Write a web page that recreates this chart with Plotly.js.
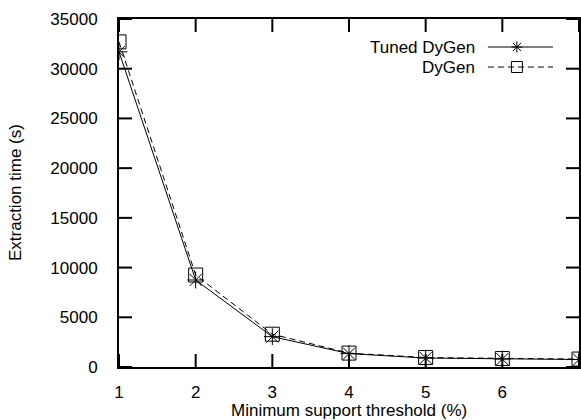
<!DOCTYPE html>
<html>
<head>
<meta charset="utf-8">
<script src="https://cdn.plot.ly/plotly-3.0.1.min.js"></script>
<style>
  html, body { margin: 0; padding: 0; background: #fff; }
  #chart { width: 581px; height: 420px; }
</style>
</head>
<body>
<div id="chart"></div>
<script>
// Minimum support threshold (%)
const thresholds = [1, 2, 3, 4, 5, 6, 7];
// Extraction time (s)
const tunedDyGen = [31700, 8750, 3050, 1350, 900, 800, 750];
const dyGen      = [32700, 9250, 3300, 1400, 950, 850, 800];

const seriesNames = ['Tuned DyGen', 'DyGen'];
const xTickLabels = ['1', '2', '3', '4', '5', '6', '7'];
const yTickValues = [0, 5000, 10000, 15000, 20000, 25000, 30000, 35000];

const FONT = 'Liberation Sans, Arial, Helvetica, sans-serif';
const TICK_LEN = 13;

const traces = [
  {
    x: thresholds, y: tunedDyGen, name: seriesNames[0],
    type: 'scatter', mode: 'lines+markers',
    line: { color: '#000', width: 1 },
    marker: { symbol: 'asterisk-open', size: 14, color: '#000', line: { color: '#000', width: 1 } },
    showlegend: false
  },
  {
    x: thresholds, y: dyGen, name: seriesNames[1],
    type: 'scatter', mode: 'lines+markers',
    line: { color: '#000', width: 1, dash: '6px,4px' },
    marker: { symbol: 'square-open', size: 14, color: '#000', line: { color: '#000', width: 1 } },
    showlegend: false
  }
];

const shapes = [];

// Inward tick marks on all four sides of the frame, placed at the tick values.
thresholds.forEach((v) => {
  [[0, TICK_LEN], [1, -TICK_LEN]].forEach(([anchor, len]) => {
    shapes.push({
      type: 'line', xref: 'x', yref: 'paper', ysizemode: 'pixel', yanchor: anchor,
      x0: v, x1: v, y0: 0, y1: len, line: { color: '#000', width: 2 }
    });
  });
});
yTickValues.forEach((v) => {
  [[0, TICK_LEN], [1, -TICK_LEN]].forEach(([anchor, len]) => {
    shapes.push({
      type: 'line', xref: 'paper', yref: 'y', xsizemode: 'pixel', xanchor: anchor,
      x0: 0, x1: len, y0: v, y1: v, line: { color: '#000', width: 2 }
    });
  });
});

// Key: label text on the left, line sample with its symbol on the right.
const keyRows = [
  { y: 0.9195, dash: 'solid' },
  { y: 0.862,  dash: '6px,4px' }
];
const keyX0 = 0.802, keyXm = 0.865, keyX1 = 0.9435, keyTextX = 0.778;
const keyMark = 5.5;   // half-size of key symbols, px

const starPath = (r) => {
  const d = (r * 0.75).toFixed(2);
  return `M${-r},0H${r}M0,${-r}V${r}M${-d},${-d}L${d},${d}M${-d},${d}L${d},${-d}`;
};

keyRows.forEach((row, i) => {
  shapes.push({
    type: 'line', xref: 'paper', yref: 'paper',
    x0: keyX0, x1: keyX1, y0: row.y, y1: row.y,
    line: { color: '#000', width: 1, dash: row.dash }
  });
  if (i === 0) {
    shapes.push({
      type: 'path', xref: 'paper', yref: 'paper',
      xsizemode: 'pixel', ysizemode: 'pixel', xanchor: keyXm, yanchor: row.y,
      path: starPath(keyMark), line: { color: '#000', width: 1 }
    });
  } else {
    shapes.push({
      type: 'rect', xref: 'paper', yref: 'paper',
      xsizemode: 'pixel', ysizemode: 'pixel', xanchor: keyXm, yanchor: row.y,
      x0: -keyMark, x1: keyMark, y0: -keyMark, y1: keyMark,
      line: { color: '#000', width: 1 }, fillcolor: 'rgba(0,0,0,0)'
    });
  }
});

const annotations = seriesNames.map((name, i) => ({
  text: name, xref: 'paper', yref: 'paper',
  x: keyTextX, y: keyRows[i].y, xanchor: 'right', yanchor: 'middle',
  showarrow: false, font: { family: FONT, size: 17, color: '#000' }
}));

annotations.push({
  text: 'Minimum support threshold (%)', xref: 'paper', yref: 'paper',
  x: 0.5, y: -0.1236, xanchor: 'center', yanchor: 'middle',
  showarrow: false, font: { family: FONT, size: 17, color: '#000' }
});
annotations.push({
  text: 'Extraction time (s)', xref: 'paper', yref: 'paper',
  x: -0.226, y: 0.5, xanchor: 'center', yanchor: 'middle', textangle: -90,
  showarrow: false, font: { family: FONT, size: 17, color: '#000' }
});

// Axis frame; the clear outside ticks only set the gap to the tick labels.
const axisCommon = {
  showline: true, linecolor: '#000', linewidth: 2, mirror: true,
  ticks: 'outside', tickcolor: 'rgba(0,0,0,0)', tickwidth: 1,
  showgrid: false, zeroline: false, automargin: false,
  tickfont: { family: FONT, size: 17, color: '#000' }
};

const layout = {
  width: 581, height: 420,
  // fixed margins: the titles sit in them, so nothing may re-expand the frame
  margin: { l: 119, r: 2, t: 19, b: 53, pad: 0, autoexpand: false },
  paper_bgcolor: '#fff', plot_bgcolor: '#fff',
  showlegend: false,
  xaxis: Object.assign({}, axisCommon, {
    range: [1, 7], tickmode: 'array', tickvals: thresholds, ticktext: xTickLabels,
    ticklen: 9
  }),
  yaxis: Object.assign({}, axisCommon, {
    range: [0, 35000], tickmode: 'array', tickvals: yTickValues,
    ticktext: yTickValues.map(String), ticklen: 16
  }),
  shapes: shapes,
  annotations: annotations
};

Plotly.newPlot('chart', traces, layout, { displayModeBar: false, staticPlot: true });
</script>
</body>
</html>
